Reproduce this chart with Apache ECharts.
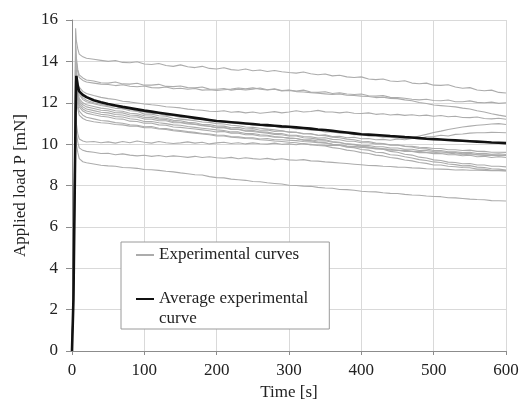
<!DOCTYPE html>
<html>
<head>
<meta charset="utf-8">
<script src="https://cdn.jsdelivr.net/npm/echarts@6/dist/echarts.min.js"></script>
<style>
  html, body { margin: 0; padding: 0; background: #fff; }
  #chart { width: 526px; height: 406px; }
</style>
</head>
<body>
<div id="chart"></div>
<script>
// Sample times [s] shared by every curve
const times = [0, 2, 4, 5, 6, 8, 10, 15, 20,
  30, 40, 50, 60, 70, 80, 90, 100, 110, 120,
  130, 140, 150, 160, 170, 180, 190, 200, 210, 220,
  230, 240, 250, 260, 270, 280, 290, 300, 310, 320,
  330, 340, 350, 360, 370, 380, 390, 400, 410, 420,
  430, 440, 450, 460, 470, 480, 490, 500, 510, 520,
  530, 540, 550, 560, 570, 580, 590, 600];

// Applied load P [mN] of each individual test
const testA = [0, 3.8, 11.0, 15.6, 15.0, 14.6, 14.35, 14.22, 14.15,
  14.10, 14.05, 14.00, 14.04, 13.95, 13.93, 13.98, 13.87, 13.85, 13.90,
  13.80, 13.76, 13.83, 13.74, 13.70, 13.76, 13.66, 13.63, 13.69, 13.60,
  13.57, 13.63, 13.55, 13.58, 13.51, 13.56, 13.50, 13.46, 13.43, 13.49,
  13.40, 13.35, 13.39, 13.30, 13.33, 13.25, 13.22, 13.25, 13.15, 13.12,
  13.15, 13.05, 13.03, 13.06, 12.95, 12.92, 12.95, 12.85, 12.84, 12.87,
  12.76, 12.70, 12.73, 12.62, 12.58, 12.61, 12.50, 12.47];
const testB = [0, 3.6, 10.6, 15.0, 14.2, 13.6, 13.35, 13.20, 13.10,
  13.05, 12.97, 12.95, 13.00, 12.91, 12.90, 12.94, 12.85, 12.85, 12.89,
  12.79, 12.78, 12.81, 12.73, 12.72, 12.76, 12.66, 12.65, 12.69, 12.61,
  12.66, 12.62, 12.66, 12.71, 12.63, 12.67, 12.59, 12.62, 12.56, 12.61,
  12.52, 12.50, 12.53, 12.45, 12.48, 12.42, 12.40, 12.42, 12.34, 12.32,
  12.35, 12.26, 12.25, 12.22, 12.17, 12.14, 12.17, 12.11, 12.10, 12.13,
  12.05, 12.05, 12.09, 12.02, 12.00, 12.03, 11.97, 12.00];
const testC = [0, 3.5, 10.3, 14.7, 14.0, 13.5, 13.22, 13.08, 13.00,
  12.95, 12.90, 12.88, 12.83, 12.87, 12.80, 12.77, 12.81, 12.73, 12.72,
  12.76, 12.68, 12.70, 12.65, 12.69, 12.61, 12.63, 12.59, 12.63, 12.66,
  12.71, 12.67, 12.72, 12.66, 12.62, 12.65, 12.57, 12.60, 12.54, 12.52,
  12.49, 12.46, 12.43, 12.40, 12.43, 12.36, 12.35, 12.32, 12.30, 12.25,
  12.27, 12.21, 12.20, 12.14, 12.10, 12.01, 11.96, 11.89, 11.86, 11.83,
  11.80, 11.74, 11.70, 11.61, 11.55, 11.47, 11.40, 11.34];
const testD = [0, 3.4, 10.0, 14.2, 13.6, 13.0, 12.75, 12.55, 12.45,
  12.35, 12.26, 12.20, 12.16, 12.07, 12.04, 11.99, 11.94, 11.90, 11.87,
  11.81, 11.78, 11.75, 11.69, 11.66, 11.64, 11.59, 11.58, 11.61, 11.54,
  11.57, 11.51, 11.55, 11.49, 11.53, 11.57, 11.51, 11.55, 11.61, 11.55,
  11.58, 11.63, 11.56, 11.55, 11.51, 11.55, 11.49, 11.48, 11.51, 11.44,
  11.47, 11.41, 11.44, 11.39, 11.42, 11.37, 11.40, 11.35, 11.38, 11.32,
  11.35, 11.29, 11.28, 11.31, 11.24, 11.22, 11.25, 11.20];
const testE = [0, 3.3, 9.8, 13.9, 13.3, 12.8, 12.50, 12.25, 12.12,
  12.00, 11.93, 11.85, 11.83, 11.71, 11.70, 11.59, 11.56, 11.49, 11.47,
  11.39, 11.38, 11.29, 11.28, 11.21, 11.20, 11.13, 11.12, 11.05, 11.05,
  10.99, 10.99, 10.91, 10.93, 10.85, 10.86, 10.79, 10.80, 10.73, 10.73,
  10.67, 10.67, 10.59, 10.60, 10.53, 10.53, 10.46, 10.47, 10.39, 10.40,
  10.34, 10.34, 10.29, 10.31, 10.31, 10.39, 10.47, 10.56, 10.63, 10.71,
  10.77, 10.83, 10.87, 10.91, 10.94, 10.97, 10.99, 10.95];
const testF = [0, 3.2, 9.6, 13.6, 13.0, 12.5, 12.20, 12.00, 11.90,
  11.82, 11.74, 11.70, 11.61, 11.59, 11.49, 11.47, 11.37, 11.36, 11.27,
  11.25, 11.15, 11.13, 11.05, 11.03, 10.95, 10.95, 10.87, 10.87, 10.79,
  10.81, 10.73, 10.75, 10.67, 10.69, 10.61, 10.64, 10.57, 10.57, 10.49,
  10.51, 10.43, 10.45, 10.37, 10.38, 10.31, 10.33, 10.26, 10.27, 10.21,
  10.23, 10.19, 10.25, 10.21, 10.27, 10.27, 10.35, 10.37, 10.43, 10.39,
  10.47, 10.49, 10.53, 10.55, 10.55, 10.57, 10.56, 10.55];
const testG = [0, 3.1, 9.4, 13.4, 12.8, 12.3, 12.00, 11.80, 11.70,
  11.62, 11.54, 11.51, 11.43, 11.41, 11.32, 11.31, 11.21, 11.21, 11.13,
  11.13, 11.04, 11.03, 10.97, 10.95, 10.89, 10.87, 10.79, 10.81, 10.73,
  10.73, 10.65, 10.67, 10.59, 10.58, 10.51, 10.51, 10.43, 10.43, 10.37,
  10.36, 10.29, 10.31, 10.23, 10.21, 10.14, 10.14, 10.07, 10.07, 10.01,
  10.01, 9.95, 9.96, 9.91, 9.89, 9.85, 9.83, 9.79, 9.79, 9.73,
  9.73, 9.69, 9.71, 9.65, 9.65, 9.61, 9.61, 9.60];
const testH = [0, 3.0, 9.2, 13.1, 12.5, 12.1, 11.80, 11.60, 11.50,
  11.42, 11.35, 11.31, 11.23, 11.21, 11.11, 11.09, 11.01, 11.01, 10.93,
  10.91, 10.83, 10.81, 10.77, 10.73, 10.69, 10.65, 10.59, 10.61, 10.53,
  10.53, 10.45, 10.46, 10.39, 10.39, 10.33, 10.33, 10.29, 10.27, 10.21,
  10.21, 10.15, 10.16, 10.09, 10.07, 10.01, 9.99, 9.94, 9.93, 9.87,
  9.87, 9.81, 9.81, 9.75, 9.75, 9.69, 9.69, 9.64, 9.63, 9.59,
  9.59, 9.53, 9.56, 9.49, 9.49, 9.47, 9.45, 9.45];
const testI = [0, 2.9, 9.0, 12.9, 12.3, 11.9, 11.60, 11.40, 11.30,
  11.22, 11.14, 11.11, 11.04, 11.01, 10.94, 10.91, 10.84, 10.85, 10.77,
  10.75, 10.69, 10.66, 10.61, 10.57, 10.51, 10.49, 10.44, 10.43, 10.37,
  10.35, 10.31, 10.31, 10.25, 10.27, 10.21, 10.21, 10.19, 10.17, 10.13,
  10.11, 10.07, 10.06, 9.99, 9.97, 9.91, 9.89, 9.84, 9.83, 9.77,
  9.77, 9.71, 9.71, 9.65, 9.65, 9.59, 9.59, 9.54, 9.55, 9.49,
  9.49, 9.44, 9.46, 9.39, 9.41, 9.35, 9.39, 9.35];
const testJ = [0, 3.2, 9.7, 13.7, 13.1, 12.6, 12.10, 11.90, 11.80,
  11.72, 11.64, 11.61, 11.52, 11.51, 11.41, 11.39, 11.29, 11.29, 11.21,
  11.19, 11.09, 11.06, 11.01, 10.97, 10.91, 10.86, 10.79, 10.79, 10.71,
  10.71, 10.63, 10.61, 10.57, 10.53, 10.47, 10.45, 10.39, 10.39, 10.31,
  10.29, 10.23, 10.21, 10.13, 10.09, 10.01, 9.97, 9.89, 9.87, 9.79,
  9.75, 9.65, 9.61, 9.51, 9.47, 9.37, 9.33, 9.24, 9.21, 9.13,
  9.11, 9.05, 9.06, 8.99, 8.99, 8.93, 8.93, 8.90];
const testK = [0, 3.1, 9.5, 13.3, 12.8, 12.3, 11.90, 11.70, 11.60,
  11.52, 11.44, 11.41, 11.33, 11.31, 11.23, 11.19, 11.09, 11.09, 11.03,
  10.99, 10.93, 10.91, 10.85, 10.81, 10.77, 10.73, 10.69, 10.66, 10.59,
  10.59, 10.51, 10.51, 10.45, 10.43, 10.37, 10.33, 10.29, 10.27, 10.19,
  10.17, 10.09, 10.06, 9.99, 9.95, 9.85, 9.83, 9.74, 9.71, 9.61,
  9.59, 9.49, 9.46, 9.39, 9.33, 9.25, 9.21, 9.14, 9.11, 9.04,
  9.01, 8.95, 8.96, 8.89, 8.87, 8.81, 8.79, 8.75];
const testL = [0, 2.8, 8.8, 12.7, 12.1, 11.7, 11.40, 11.24, 11.15,
  11.08, 11.03, 11.01, 10.95, 10.93, 10.87, 10.87, 10.79, 10.79, 10.73,
  10.71, 10.65, 10.61, 10.57, 10.53, 10.49, 10.45, 10.39, 10.39, 10.33,
  10.31, 10.27, 10.26, 10.21, 10.19, 10.15, 10.13, 10.09, 10.07, 10.01,
  9.99, 9.93, 9.91, 9.83, 9.79, 9.71, 9.67, 9.59, 9.55, 9.47,
  9.43, 9.35, 9.31, 9.23, 9.19, 9.11, 9.07, 8.99, 8.99, 8.93,
  8.91, 8.87, 8.86, 8.79, 8.79, 8.73, 8.73, 8.70];
const testM = [0, 2.6, 8.0, 11.5, 11.0, 10.5, 10.25, 10.15, 10.10,
  10.13, 10.07, 10.11, 10.05, 10.13, 10.07, 10.15, 10.09, 10.05, 10.13,
  10.07, 10.03, 10.06, 10.11, 10.05, 10.09, 10.01, 10.06, 10.09, 10.03,
  10.07, 10.01, 10.06, 10.02, 10.00, 10.05, 9.99, 10.01, 9.97, 10.03,
  9.96, 9.96, 9.94, 9.93, 9.93, 9.89, 9.87, 9.86, 9.81, 9.81,
  9.77, 9.75, 9.69, 9.71, 9.65, 9.65, 9.61, 9.61, 9.57, 9.57,
  9.53, 9.51, 9.49, 9.49, 9.45, 9.47, 9.43, 9.45];
const testN = [0, 2.5, 7.8, 11.2, 10.6, 10.1, 9.82, 9.70, 9.65,
  9.61, 9.55, 9.56, 9.49, 9.53, 9.47, 9.43, 9.46, 9.41, 9.45,
  9.39, 9.43, 9.40, 9.36, 9.41, 9.35, 9.39, 9.34, 9.32, 9.36,
  9.29, 9.34, 9.30, 9.27, 9.31, 9.25, 9.29, 9.24, 9.22, 9.25,
  9.19, 9.18, 9.14, 9.12, 9.09, 9.06, 9.03, 9.00, 8.97, 8.96,
  8.93, 8.92, 8.89, 8.88, 8.85, 8.84, 8.81, 8.80, 8.79, 8.78,
  8.75, 8.76, 8.74, 8.74, 8.73, 8.72, 8.72, 8.72];
const testO = [0, 2.4, 7.5, 10.6, 10.0, 9.6, 9.30, 9.15, 9.10,
  9.04, 8.98, 8.95, 8.93, 8.87, 8.86, 8.83, 8.77, 8.76, 8.73,
  8.69, 8.66, 8.61, 8.57, 8.52, 8.51, 8.43, 8.38, 8.37, 8.31,
  8.28, 8.25, 8.19, 8.18, 8.13, 8.10, 8.07, 8.01, 8.00, 7.97,
  7.96, 7.91, 7.88, 7.87, 7.81, 7.80, 7.77, 7.72, 7.70, 7.69,
  7.65, 7.62, 7.61, 7.57, 7.54, 7.53, 7.49, 7.47, 7.46, 7.41,
  7.40, 7.37, 7.34, 7.32, 7.31, 7.27, 7.26, 7.25];
const testP = [0, 3.3, 9.9, 13.8, 13.2, 12.7, 12.40, 12.15, 12.05,
  11.95, 11.87, 11.81, 11.73, 11.71, 11.61, 11.59, 11.45, 11.45, 11.37,
  11.35, 11.25, 11.21, 11.17, 11.13, 11.07, 11.05, 10.99, 10.97, 10.91,
  10.89, 10.83, 10.81, 10.77, 10.73, 10.69, 10.65, 10.59, 10.57, 10.51,
  10.49, 10.43, 10.41, 10.34, 10.31, 10.24, 10.21, 10.14, 10.13, 10.05,
  10.03, 9.97, 9.96, 9.89, 9.86, 9.79, 9.77, 9.69, 9.69, 9.63,
  9.63, 9.59, 9.61, 9.55, 9.56, 9.51, 9.53, 9.50];

// Mean of all tests
const average = [0, 2.5, 8.5, 11.5, 13.3, 12.8, 12.55, 12.38, 12.27,
  12.12, 12.02, 11.94, 11.87, 11.80, 11.74, 11.68, 11.62, 11.57, 11.52,
  11.47, 11.42, 11.37, 11.32, 11.27, 11.22, 11.17, 11.12, 11.09, 11.06,
  11.03, 11.00, 10.97, 10.94, 10.92, 10.89, 10.86, 10.84, 10.81, 10.78,
  10.75, 10.71, 10.68, 10.64, 10.60, 10.56, 10.52, 10.48, 10.46, 10.44,
  10.42, 10.39, 10.37, 10.34, 10.32, 10.29, 10.26, 10.24, 10.22, 10.20,
  10.18, 10.16, 10.14, 10.12, 10.10, 10.08, 10.07, 10.05];

const xTicks = [0, 100, 200, 300, 400, 500, 600];
const yTicks = [0, 2, 4, 6, 8, 10, 12, 14, 16];

const tests = [testA, testB, testC, testD, testE, testF, testG, testH,
  testI, testJ, testK, testL, testM, testN, testO, testP];

const EXP_NAME = 'Experimental curves';
const AVG_NAME = 'Average experimental\ncurve';
const SERIF = '"Liberation Serif", "Times New Roman", serif';
const GREY = '#acacac';
const BLACK = '#111111';

function pairs(values) {
  return values.map((v, i) => [times[i], v]);
}

const series = tests.map(values => ({
  name: EXP_NAME,
  type: 'line',
  data: pairs(values),
  symbol: 'none',
  silent: true,
  itemStyle: { color: GREY },
  lineStyle: { color: GREY, width: 1.1 },
  z: 2
}));
series.push({
  name: AVG_NAME,
  type: 'line',
  data: pairs(average),
  symbol: 'none',
  silent: true,
  itemStyle: { color: BLACK },
  lineStyle: { color: BLACK, width: 2.6 },
  z: 3
});

const chart = echarts.init(document.getElementById('chart'), null, { renderer: 'canvas' });
chart.setOption({
  animation: false,
  backgroundColor: '#fff',
  grid: { left: 72, right: 20, top: 20, bottom: 54 },
  xAxis: {
    type: 'value',
    min: xTicks[0],
    max: xTicks[xTicks.length - 1],
    interval: xTicks[1] - xTicks[0],
    name: 'Time [s]',
    nameLocation: 'middle',
    nameGap: 33,
    nameTextStyle: { fontFamily: SERIF, fontSize: 17, color: '#222' },
    axisLine: { lineStyle: { color: '#8c8c8c', width: 1 } },
    axisTick: { show: true, length: 4, lineStyle: { color: '#8c8c8c' } },
    axisLabel: { fontFamily: SERIF, fontSize: 17, color: '#222', margin: 11 },
    splitLine: { show: true, lineStyle: { color: '#d9d9d9', width: 1 } }
  },
  yAxis: {
    type: 'value',
    min: yTicks[0],
    max: yTicks[yTicks.length - 1],
    interval: yTicks[1] - yTicks[0],
    name: 'Applied load P [mN]',
    nameLocation: 'middle',
    nameGap: 43,
    nameRotate: 90,
    nameTextStyle: { fontFamily: SERIF, fontSize: 17, color: '#222' },
    axisLine: { show: true, lineStyle: { color: '#8c8c8c', width: 1 } },
    axisTick: { show: true, length: 6, lineStyle: { color: '#8c8c8c' } },
    axisLabel: { fontFamily: SERIF, fontSize: 17, color: '#222', margin: 14 },
    splitLine: { show: true, lineStyle: { color: '#d9d9d9', width: 1 } }
  },
  legend: {
    orient: 'vertical',
    left: 121,
    top: 242,
    padding: [3, 21, 0, 14],
    itemGap: 4,
    itemWidth: 18,
    itemHeight: 14,
    selectedMode: false,
    backgroundColor: '#fff',
    borderColor: '#9a9a9a',
    borderWidth: 1,
    borderRadius: 0,
    data: [EXP_NAME, AVG_NAME],
    // line samples only, no marker on them
    itemStyle: { opacity: 0 },
    lineStyle: { opacity: 1 },
    // leading blank line keeps the first text line level with the sample line
    formatter: name => (name === AVG_NAME ? '\n' + name : name),
    textStyle: { fontFamily: SERIF, fontSize: 17, color: '#222', lineHeight: 20 }
  },
  series: series
});
</script>
</body>
</html>
